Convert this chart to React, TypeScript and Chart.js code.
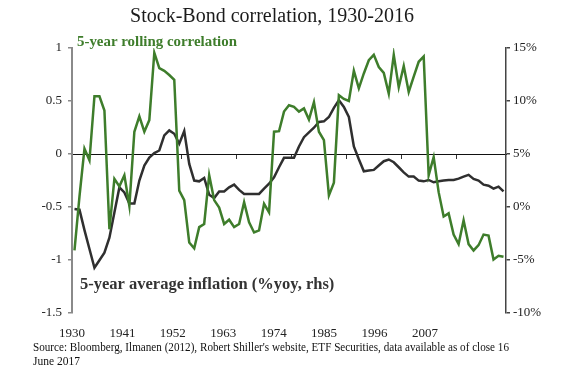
import { useEffect, useRef } from 'react';
import { Chart, registerables } from 'chart.js';

Chart.register(...registerables);

const START_YEAR = 1930;
const years = Array.from({ length: 87 }, (_, i) => START_YEAR + i);

const correlation = [
  -0.91, -0.4, 0.05, -0.06, 0.545, 0.545, 0.41, -0.71, -0.235, -0.305,
  -0.2, -0.49, 0.21, 0.355, 0.21, 0.32, 0.955, 0.81, 0.785, 0.745,
  0.7, -0.345, -0.435, -0.835, -0.89, -0.69, -0.66, -0.2, -0.435, -0.505,
  -0.66, -0.62, -0.69, -0.66, -0.455, -0.645, -0.74, -0.72, -0.47, -0.55,
  0.21, 0.215, 0.4, 0.46, 0.445, 0.4, 0.43, 0.325, 0.49, 0.21,
  0.13, -0.39, -0.27, 0.555, 0.52, 0.5, 0.785, 0.62, 0.76, 0.885,
  0.935, 0.82, 0.765, 0.57, 0.935, 0.63, 0.83, 0.585, 0.73, 0.87,
  0.92, -0.2, -0.03, -0.36, -0.59, -0.56, -0.76, -0.85, -0.625, -0.85,
  -0.91, -0.86, -0.76, -0.77, -0.995, -0.96, -0.97,
];

const inflation = [
  -0.19, -0.25, -2.18, -3.96, -5.73, -5.02, -4.31, -2.89, -0.52, 1.85,
  1.38, 0.34, 0.34, 2.49, 3.91, 4.67, 5.08, 5.33, 6.75, 7.23,
  6.91, 5.97, 7.16, 4.07, 2.49, 2.42, 2.74, 1.16, 0.85, 1.47,
  1.47, 1.85, 2.11, 1.61, 1.23, 1.23, 1.23, 1.23, 1.73, 2.2,
  2.8, 3.75, 4.64, 4.64, 4.64, 5.71, 6.59, 7.04, 7.48, 8.03,
  8.08, 8.49, 9.35, 10.07, 9.44, 8.49, 5.71, 4.5, 3.37, 3.44,
  3.5, 3.91, 4.32, 4.48, 4.22, 3.75, 3.27, 2.87, 2.87, 2.49,
  2.42, 2.55, 2.33, 2.42, 2.49, 2.55, 2.55, 2.68, 2.87, 3.03,
  2.65, 2.49, 2.11, 2.01, 1.73, 1.92, 1.47,
];

const yearLabels = [1930, 1941, 1952, 1963, 1974, 1985, 1996, 2007];
const yearTickMarks = [1929.5, 1940.5, 1951.5, 1962.5, 1973.5, 1984.5, 1995.5, 2006.5];
const corrTicks = [-1.5, -1, -0.5, 0, 0.5, 1];
const inflTicks = [-10, -5, 0, 5, 10, 15];

const TITLE = 'Stock-Bond correlation, 1930-2016';
const CORR_LABEL = '5-year rolling correlation';
const INFL_LABEL = '5-year average inflation (%yoy, rhs)';
const SOURCE_LINES = [
  "Source: Bloomberg, Ilmanen (2012), Robert Shiller's website, ETF Securities, data available as of close 16",
  'June 2017',
];

const SERIF = '"Liberation Serif", "DejaVu Serif", serif';
const GREEN = '#3e7d2b';
const DARK = '#2f2f2f';

const textPlugin = {
  id: 'textPlugin',
  afterDraw(chart: any) {
    const ctx = chart.ctx;
    ctx.save();
    ctx.textBaseline = 'middle';
    ctx.textAlign = 'center';
    ctx.fillStyle = '#1b1b1b';
    ctx.font = `20px ${SERIF}`;
    ctx.fillText(TITLE, 272, 17);

    ctx.textAlign = 'left';
    ctx.fillStyle = GREEN;
    ctx.font = `bold 15px ${SERIF}`;
    ctx.fillText(CORR_LABEL, 77, 42, 160);

    ctx.fillStyle = '#333333';
    ctx.font = `bold 16.5px ${SERIF}`;
    ctx.fillText(INFL_LABEL, 80, 285, 262);

    ctx.fillStyle = '#111111';
    ctx.font = `11.5px ${SERIF}`;
    ctx.fillText(SOURCE_LINES[0], 33, 348, 476);
    ctx.fillText(SOURCE_LINES[1], 33, 362);
    ctx.restore();
  },
};

export default function App() {
  const canvasRef = useRef<HTMLCanvasElement | null>(null);

  useEffect(() => {
    if (!canvasRef.current) return;
    const tickFont = { family: SERIF, size: 13 };
    const chart = new Chart(canvasRef.current, {
      type: 'line',
      data: {
        datasets: [
          {
            label: CORR_LABEL,
            data: years.map((x, i) => ({ x, y: correlation[i] })),
            borderColor: GREEN,
            borderWidth: 2.5,
            pointRadius: 0,
            tension: 0,
            xAxisID: 'x',
            yAxisID: 'y',
          },
          {
            label: INFL_LABEL,
            data: years.map((x, i) => ({ x, y: inflation[i] })),
            borderColor: DARK,
            borderWidth: 2.5,
            pointRadius: 0,
            tension: 0,
            xAxisID: 'x',
            yAxisID: 'y2',
          },
        ],
      },
      options: {
        animation: false,
        responsive: true,
        maintainAspectRatio: false,
        layout: { padding: { top: 48, bottom: 33, left: 0, right: 0 } },
        plugins: {
          legend: { display: false },
          tooltip: { enabled: false },
        },
        scales: {
          x: {
            type: 'linear',
            min: 1929.5,
            max: 2016.5,
            position: { y: 0 } as any,
            afterBuildTicks: (s: any) => {
              s.ticks = yearTickMarks.map((v) => ({ value: v }));
            },
            afterFit: (s: any) => {
              s.height = 0;
            },
            ticks: { display: false },
            grid: { drawOnChartArea: false, drawTicks: true, tickLength: 4, color: '#333', lineWidth: 1 },
            border: { display: true, color: '#111', width: 1 },
          },
          xLabels: {
            type: 'linear',
            axis: 'x',
            position: 'bottom',
            min: 1930,
            max: 2024.7,
            afterBuildTicks: (s: any) => {
              s.ticks = yearLabels.map((v) => ({ value: v }));
            },
            afterFit: (s: any) => {
              s.height = 28;
            },
            ticks: {
              autoSkip: false,
              maxRotation: 0,
              padding: 13,
              font: tickFont,
              color: '#222',
              callback: (v: any) => String(v),
            },
            grid: { display: false, drawTicks: false },
            border: { display: false },
          },
          y: {
            type: 'linear',
            position: 'left',
            min: -1.5,
            max: 1,
            afterBuildTicks: (s: any) => {
              s.ticks = corrTicks.map((v) => ({ value: v }));
            },
            afterFit: (s: any) => {
              s.width = 72;
            },
            ticks: { padding: 6, font: tickFont, color: '#222', callback: (v: any) => String(v) },
            grid: { drawOnChartArea: false, tickLength: 4, color: '#8a8a8a', lineWidth: 1.5 },
            border: { color: '#8a8a8a', width: 2 },
          },
          y2: {
            type: 'linear',
            position: 'right',
            min: -10,
            max: 15,
            afterBuildTicks: (s: any) => {
              s.ticks = inflTicks.map((v) => ({ value: v }));
            },
            afterFit: (s: any) => {
              s.width = 60;
            },
            ticks: { padding: 3, font: tickFont, color: '#222', callback: (v: any) => `${v}%` },
            grid: { drawOnChartArea: false, tickLength: 4, color: '#444', lineWidth: 1.5 },
            border: { color: '#444', width: 1.5 },
          },
        },
      } as any,
      plugins: [textPlugin],
    });
    return () => chart.destroy();
  }, []);

  return (
    <div style={{ position: 'absolute', left: 0, top: 0, width: 566, height: 374, background: '#fff' }}>
      <canvas ref={canvasRef} />
    </div>
  );
}
